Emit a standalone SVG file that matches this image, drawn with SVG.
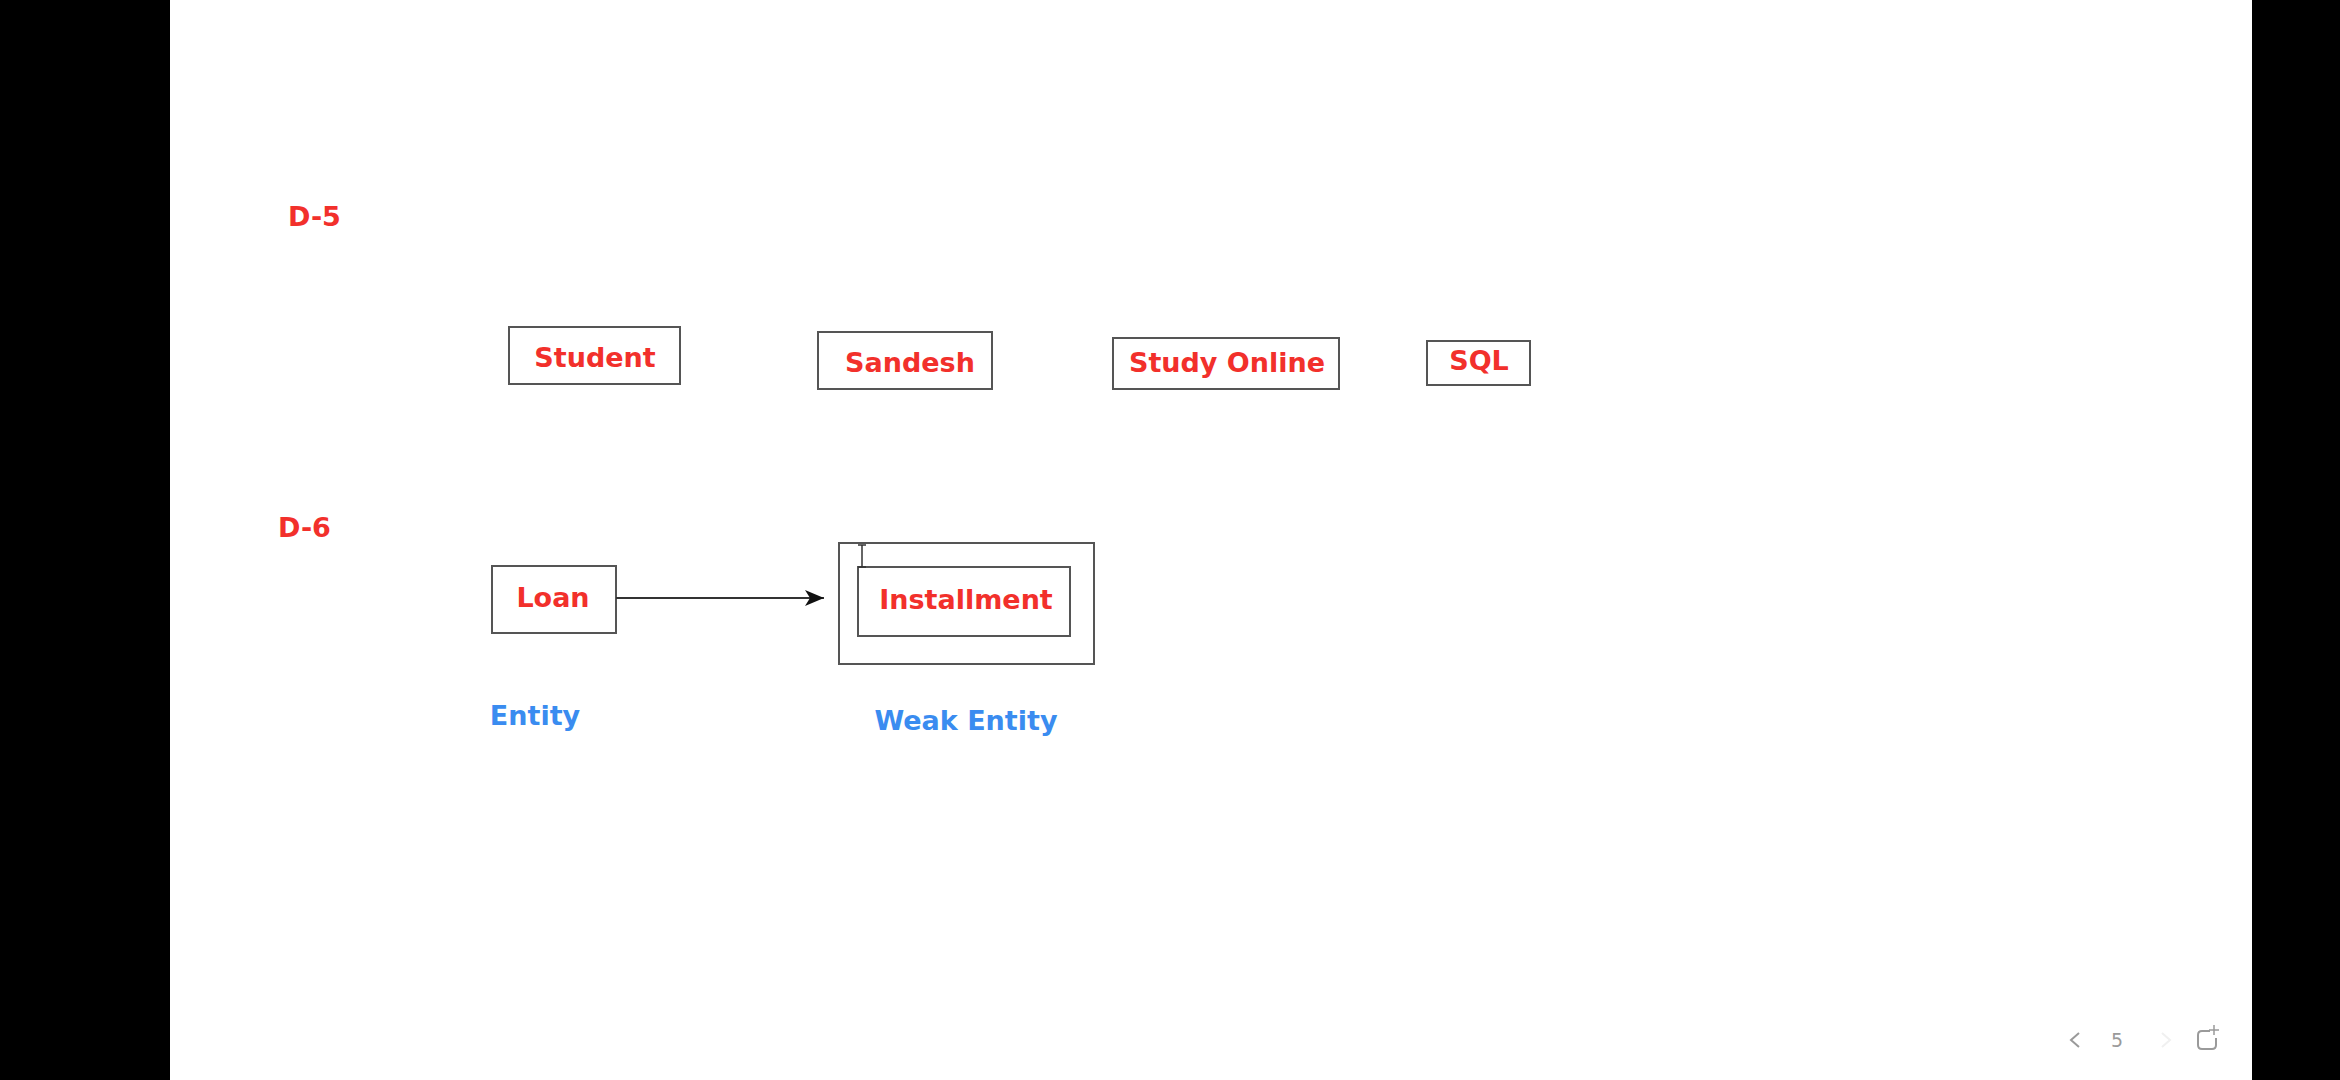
<svg xmlns="http://www.w3.org/2000/svg" width="2340" height="1080" viewBox="0 0 2340 1080">
  <defs>
    <style>
      .box { fill: #ffffff; stroke: #555555; stroke-width: 2; }
      .red { font-family: "DejaVu Sans", Verdana, sans-serif; font-weight: bold; font-size: 27px; fill: #f2302b; text-anchor: middle; }
      .redl { font-family: "DejaVu Sans", Verdana, sans-serif; font-weight: bold; font-size: 27px; fill: #f2302b; }
      .blue { font-family: "DejaVu Sans", Verdana, sans-serif; font-weight: bold; font-size: 27px; fill: #3a8cf0; text-anchor: middle; }
      .conn { stroke: #333333; stroke-width: 2; fill: none; }
      .ui { font-family: "DejaVu Sans", sans-serif; font-size: 19px; fill: #9a9a9a; }
    </style>
    <marker id="arrow" markerWidth="20" markerHeight="16" refX="19" refY="8" orient="auto" markerUnits="userSpaceOnUse">
      <path d="M0,0 L19,8 L0,16 L5,8 Z" fill="#111111"/>
    </marker>
  </defs>

  <rect x="0" y="0" width="2340" height="1080" fill="#ffffff"/>
  <rect x="0" y="0" width="170" height="1080" fill="#000000"/>
  <rect x="2252" y="0" width="88" height="1080" fill="#000000"/>

  <text class="redl" x="288" y="226">D-5</text>
  <text class="redl" x="278" y="537">D-6</text>

  <g id="student">
    <rect class="box" x="509" y="327" width="171" height="57"/>
    <text class="red" x="595" y="367">Student</text>
  </g>
  <g id="sandesh">
    <rect class="box" x="818" y="332" width="174" height="57"/>
    <text class="red" x="910" y="372">Sandesh</text>
  </g>
  <g id="study-online">
    <rect class="box" x="1113" y="338" width="226" height="51"/>
    <text class="red" x="1227" y="372">Study Online</text>
  </g>
  <g id="sql">
    <rect class="box" x="1427" y="341" width="103" height="44"/>
    <text class="red" x="1479" y="370">SQL</text>
  </g>

  <g id="loan">
    <rect class="box" x="492" y="566" width="124" height="67"/>
    <text class="red" x="553" y="607">Loan</text>
  </g>
  <g id="installment">
    <rect class="box" x="839" y="543" width="255" height="121"/>
    <rect class="box" x="858" y="567" width="212" height="69"/>
    <text class="red" x="966" y="609">Installment</text>
  </g>

  <g id="connectors">
    <line class="conn" x1="616" y1="598" x2="824" y2="598" marker-end="url(#arrow)"/>
  </g>

  <g id="labels">
    <text class="blue" x="535" y="725">Entity</text>
    <text class="blue" x="966" y="730">Weak Entity</text>
  </g>

  <g id="cursor" stroke="#333333" stroke-width="1.5" fill="none">
    <line x1="862" y1="545" x2="862" y2="567"/>
    <line x1="858" y1="545" x2="866" y2="545"/>
    <line x1="858" y1="567" x2="866" y2="567"/>
  </g>

  <g id="page-ui">
    <path d="M2079,1033 L2071,1040 L2079,1047" stroke="#9a9a9a" stroke-width="2" fill="none"/>
    <text class="ui" x="2111" y="1047">5</text>
    <path d="M2162,1033 L2170,1040 L2162,1047" stroke="#f0f0f0" stroke-width="2" fill="none"/>
    <path d="M2210,1031 L2202,1031 Q2198,1031 2198,1035 L2198,1045 Q2198,1049 2202,1049 L2212,1049 Q2216,1049 2216,1045 L2216,1038" stroke="#9a9a9a" stroke-width="2" fill="none"/>
    <path d="M2214,1025 L2214,1035 M2209,1030 L2219,1030" stroke="#9a9a9a" stroke-width="1.5" fill="none"/>
  </g>
</svg>
